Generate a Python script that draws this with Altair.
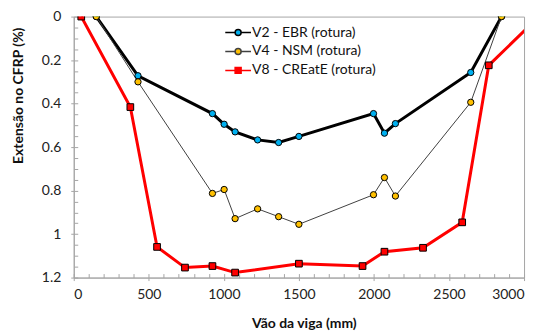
import altair as alt
import pandas as pd

series_names = ["V2 - EBR (rotura)", "V4 - NSM (rotura)", "V8 - CREatE (rotura)"]

v2_x = [150, 428, 924, 1002, 1075, 1225, 1365, 1500, 1997, 2070, 2143, 2645, 2850]
v2_y = [0, 0.272, 0.446, 0.495, 0.530, 0.567, 0.579, 0.551, 0.446, 0.536, 0.492, 0.257, 0]

v4_x = [150, 428, 924, 1002, 1075, 1225, 1365, 1500, 1997, 2070, 2143, 2645, 2850]
v4_y = [0, 0.300, 0.813, 0.795, 0.929, 0.884, 0.920, 0.955, 0.819, 0.740, 0.825, 0.394, 0]

v8_x = [50, 377, 555, 741, 924, 1075, 1500, 1924, 2070, 2327, 2588, 2765, 3100]
v8_y = [0, 0.416, 1.059, 1.154, 1.147, 1.177, 1.136, 1.147, 1.081, 1.063, 0.946, 0.224, 0]

x_major = [0, 500, 1000, 1500, 2000, 2500, 3000]
x_minor = list(range(0, 3001, 100))
y_major = [0, 0.2, 0.4, 0.6, 0.8, 1.0, 1.2]
y_minor = [round(i * 0.05, 2) for i in range(0, 25)]

rows = []
for name, xs_, ys_ in zip(series_names, [v2_x, v4_x, v8_x], [v2_y, v4_y, v8_y]):
    for i, (a, b) in enumerate(zip(xs_, ys_)):
        rows.append({"series": name, "x": a, "y": b, "order": i})
df = pd.DataFrame(rows)

fill_colors = ["#00b0f0", "#ffc000", "#ff0000"]
line_colors = ["#000000", "#404040", "#ff0000"]
line_widths = [3, 1, 3]
circ = "M-4.3,0L-1,0M1,0L4.3,0M1,0A1,1,0,1,1,-1,0A1,1,0,1,1,1,0Z"
sq = "M-4.3,0L-1,0M1,0L4.3,0M-1,-1L1,-1L1,1L-1,1Z"

FONT = "Lato"
GRAY = "#a6a6a6"

xs = alt.Scale(domain=[0, 3000], nice=False)
ys = alt.Scale(domain=[0, 1.2], reverse=True, nice=False)

x_main = alt.X("x:Q", scale=xs, axis=alt.Axis(
    orient="bottom", values=x_major, format="d", tickSize=3, tickColor=GRAY, domainColor=GRAY,
    labelFont=FONT, labelFontSize=14, labelColor="#222", labelPadding=7,
    grid=False, title="Vão da viga (mm)", titleFont=FONT, titleFontSize=14,
    titleFontWeight="bold", titleColor="#111", titleX=231, titleY=46,
    titleAlign="center", titleBaseline="middle"))
y_main = alt.Y("y:Q", scale=ys, axis=alt.Axis(
    orient="left", values=y_major, format="~g", tickSize=3, tickColor=GRAY, domainColor=GRAY,
    labelFont=FONT, labelFontSize=14, labelColor="#222", labelPadding=10,
    grid=False, title="Extensão no CFRP (%)", titleFont=FONT, titleFontSize=14,
    titleFontWeight="bold", titleColor="#111", titleX=-55, titleY=79,
    titleAngle=270, titleAlign="center", titleBaseline="middle"))

x_none = alt.X("x:Q", scale=xs, axis=None)
y_none = alt.Y("y:Q", scale=ys, axis=None)

base = alt.Chart(df)

minor_axes = base.mark_point(opacity=0).encode(
    x=alt.X("x:Q", scale=xs, axis=alt.Axis(orient="bottom", values=x_minor, tickSize=4, offset=-4,
                                           domain=False, labels=False, title=None, grid=False,
                                           tickColor=GRAY)),
    y=alt.Y("y:Q", scale=ys, axis=alt.Axis(orient="left", values=y_minor, tickSize=4, offset=-4,
                                           domain=False, labels=False, title=None, grid=False,
                                           tickColor=GRAY)),
)

main_axes = base.mark_point(opacity=0).encode(x=x_main, y=y_main)

layers = [minor_axes, main_axes]
for name, lc, lw in zip(series_names, line_colors, line_widths):
    layers.append(
        base.transform_filter(alt.FieldEqualPredicate(field="series", equal=name))
        .mark_line(clip=True, stroke=lc, strokeWidth=lw)
        .encode(x=x_none, y=y_none, order="order:Q")
    )

for name, fc in zip(series_names, fill_colors):
    shp = "square" if name.startswith("V8") else "circle"
    sz = 45 if shp == "square" else 40
    layers.append(
        base.transform_filter(alt.FieldEqualPredicate(field="series", equal=name))
        .mark_point(shape=shp, filled=True, size=sz, fill=fc, stroke="#000", strokeWidth=1,
                    opacity=1, clip=True)
        .encode(x=x_none, y=y_none)
    )

legend_layer = base.mark_point(filled=True, opacity=0, strokeWidth=1.5).encode(
    x=x_none, y=y_none,
    shape=alt.Shape("series:N", scale=alt.Scale(domain=series_names, range=[circ, circ, sq]),
                    legend=alt.Legend(title=None, orient="none", legendX=158, legendY=9,
                                      symbolSize=36, labelOffset=7, labelFont=FONT,
                                      labelFontSize=14, labelColor="#111", rowPadding=5,
                                      symbolOpacity=1, symbolStrokeWidth=1.5)),
    fill=alt.Fill("series:N", scale=alt.Scale(domain=series_names, range=fill_colors)),
    stroke=alt.Stroke("series:N", scale=alt.Scale(domain=series_names, range=line_colors)),
)
layers.append(legend_layer)

chart = alt.layer(*layers).resolve_axis(
    x="independent", y="independent"
).properties(
    width=452, height=262,
    autosize=alt.AutoSizeParams(type="none"),
    padding={"left": 66, "top": 8, "right": 10, "bottom": 54},
).configure_view(stroke=GRAY, strokeWidth=1)

chart.save("out.html", embed_options={"renderer": "svg", "actions": False})
